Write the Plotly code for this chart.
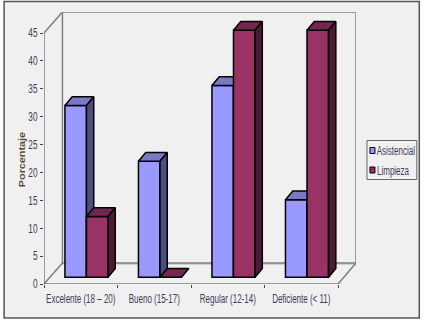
import plotly.graph_objects as go

categories = ["Excelente (18 – 20)", "Bueno (15-17)", "Regular (12-14)", "Deficiente (< 11)"]
asistencial = [30.8, 20.8, 34.4, 13.9]
limpieza = [10.9, 0, 44.3, 44.3]
y_ticks = [0, 5, 10, 15, 20, 25, 30, 35, 40, 45]

W, H = 423, 321
L, R = 43.5, 356.5      # plot area px
T, B = 12.0, 284.0
CAT_PX = 73.75
UNIT_PX = 251 / 45
xmax = (R - L) / CAT_PX
ymax = (B - T) / UNIT_PX
wall_dx, wall_dy = 18.5 / CAT_PX, 21 / UNIT_PX
base = 6.7 / UNIT_PX
bar_w = 21.6 / CAT_PX
split = 42.6 / CAT_PX
dx, dy = 7.3 / CAT_PX, 8.7 / UNIT_PX
FONT = "Liberation Sans"
TXT = "#3c3c58"


def px(x):
    return (x - L) / (R - L)


def py(y):
    return (B - y) / (B - T)


fig = go.Figure()


def series(values, name, front, top, side, offs, xa, ya):
    xc = [i + offs for i in range(len(values))]
    fig.add_trace(go.Bar(x=xc, y=values, base=[base] * len(values), width=bar_w, name=name,
                         marker=dict(color=front, line=dict(color="black", width=1.5)),
                         xaxis=xa, yaxis=ya, showlegend=False))
    for c, v in zip(xc, values):
        x0, x1 = c - bar_w / 2, c + bar_w / 2
        y1 = base + v
        fig.add_trace(go.Scatter(x=[x0, x0 + dx, x1 + dx, x1, x0], y=[y1, y1 + dy, y1 + dy, y1, y1],
                                 mode="lines", fill="toself", fillcolor=top,
                                 line=dict(color="black", width=1.5), hoverinfo="skip",
                                 xaxis=xa, yaxis=ya, showlegend=False))
        if v > 0:
            fig.add_trace(go.Scatter(x=[x1, x1 + dx, x1 + dx, x1, x1],
                                     y=[y1, y1 + dy, base + dy, base, y1],
                                     mode="lines", fill="toself", fillcolor=side,
                                     line=dict(color="black", width=1.5), hoverinfo="skip",
                                     xaxis=xa, yaxis=ya, showlegend=False))


series(asistencial, "Asistencial", "#9999ff", "#7a7ac4", "#4d4d80", split - bar_w / 2, "x", "y")
series(limpieza, "Limpieza", "#993366", "#732650", "#4d1a33", split + bar_w / 2, "x2", "y2")

shapes = [
    dict(type="rect", xref="paper", yref="paper", x0=px(3.5), x1=px(420), y0=py(1.5), y1=py(318),
         line=dict(color="#555555", width=1.5), fillcolor="#f0f0f0", layer="below"),
]
gray = dict(color="#808080", width=1.5)
wall = [(wall_dx, wall_dy), (wall_dx, ymax), (xmax, ymax), (xmax, wall_dy)]
for (a, b), (c, d) in zip(wall, wall[1:]):
    shapes.append(dict(type="line", x0=a, y0=b, x1=c, y1=d, line=gray, layer="below"))
shapes += [
    dict(type="line", x0=wall_dx, y0=wall_dy - 0.15, x1=xmax, y1=wall_dy - 0.15,
         line=dict(color="#c8c8c8", width=2), layer="below"),
    dict(type="line", x0=wall_dx, y0=wall_dy, x1=xmax, y1=wall_dy, line=gray, layer="below"),
    dict(type="line", x0=0, y0=0, x1=wall_dx, y1=wall_dy, line=gray, layer="below"),
    dict(type="line", x0=4, y0=0, x1=xmax, y1=wall_dy, line=gray, layer="below"),
    dict(type="line", x0=wall_dx, y0=ymax, x1=0, y1=45, line=gray, layer="below"),
    dict(type="line", x0=0, y0=0, x1=0, y1=45, line=dict(color="#444444", width=1), layer="below"),
    dict(type="line", x0=0, y0=0, x1=4, y1=0, line=dict(color="#444444", width=1), layer="below"),
    # legend
    dict(type="rect", xref="paper", yref="paper", x0=px(367.5), x1=px(417.5), y0=py(140.5), y1=py(179.5),
         line=dict(color="#666666", width=1), fillcolor="#f0f0f0", layer="below"),
    dict(type="rect", xref="paper", yref="paper", x0=px(370.5), x1=px(375.5), y0=py(147.5), y1=py(153.5),
         line=dict(color="black", width=1), fillcolor="#9999ff", layer="below"),
    dict(type="rect", xref="paper", yref="paper", x0=px(370.5), x1=px(375.5), y0=py(167), y1=py(173),
         line=dict(color="black", width=1), fillcolor="#993366", layer="below"),
]

annotations = [
    dict(xref="paper", yref="paper", x=px(396.8), y=py(150.5), text="Asistencial", showarrow=False,
         xanchor="center", yanchor="middle", font=dict(family=FONT, size=12.5, color=TXT)),
    dict(xref="paper", yref="paper", x=px(393.2), y=py(171), text="Limpieza", showarrow=False,
         xanchor="center", yanchor="middle", font=dict(family=FONT, size=12.5, color=TXT)),
    dict(xref="paper", yref="paper", x=px(21), y=py(160), text="<b>Porcentaje</b>", textangle=-90,
         showarrow=False, xanchor="center", yanchor="middle",
         font=dict(family=FONT, size=9, color="#5a4a3a")),
]

fig.update_layout(
    width=W, height=H, autosize=False, margin=dict(l=L, r=W - R, t=T, b=H - B, pad=0, autoexpand=False),
    paper_bgcolor="white", plot_bgcolor="rgba(0,0,0,0)", shapes=shapes, annotations=annotations,
    barmode="overlay", showlegend=False,
    xaxis=dict(range=[0, xmax], tickmode="array", tickvals=[i + 0.5 for i in range(4)], ticktext=categories,
               ticks="", tickangle=0, automargin=False, showgrid=False, zeroline=False, showline=False,
               ticklabelstandoff=5,
               minor=dict(tickmode="array", tickvals=[0, 1, 2, 3, 4], ticks="outside", ticklen=3,
                          tickcolor="#444444", tickwidth=1, showgrid=False),
               tickfont=dict(family=FONT, size=12.5, color=TXT)),
    yaxis=dict(range=[0, ymax], tickmode="array", tickvals=y_ticks, ticks="outside", ticklen=3,
               tickcolor="#444444", tickwidth=1, automargin=False, showgrid=False, zeroline=False,
               showline=False, tickfont=dict(family=FONT, size=12.5, color=TXT)),
    xaxis2=dict(range=[0, xmax], overlaying="x", visible=False),
    yaxis2=dict(range=[0, ymax], overlaying="y", visible=False),
)

# The reference uses a condensed face; squeeze the real text to that width.
post = """
document.body.style.margin='0';
document.body.style.overflow='hidden';
function squeeze(sel, k){
  document.querySelectorAll(sel).forEach(function(t){
    var n = t.getComputedTextLength();
    if(n>0){ t.setAttribute('textLength', n*k); t.setAttribute('lengthAdjust','spacingAndGlyphs'); }
  });
}
squeeze('.xtick text', 0.64);
squeeze('.ytick text', 0.66);
document.querySelectorAll('.annotation-text').forEach(function(t){
  var n = t.getComputedTextLength();
  var k = t.textContent==='Porcentaje' ? 1.2 : 0.64;
  t.setAttribute('textLength', n*k); t.setAttribute('lengthAdjust','spacingAndGlyphs');
});
"""
fig.write_html("out.html", post_script=post, config={"displayModeBar": False})
